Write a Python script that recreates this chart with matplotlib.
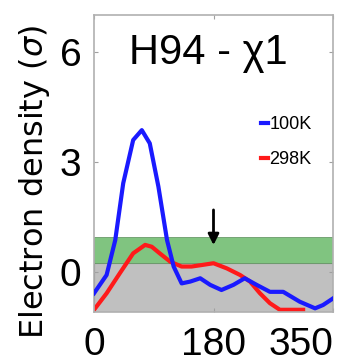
import matplotlib
matplotlib.use("Agg")
import matplotlib.pyplot as plt

# --- data ---
angle_100K = [0, 19, 32, 44, 59, 72, 84, 97, 110, 120, 132, 145, 160, 175, 192, 210, 227, 245, 265, 285, 310, 333, 345, 360]
dens_100K = [-0.59, -0.09, 0.86, 2.41, 3.59, 3.86, 3.5, 2.32, 0.86, 0.14, -0.32, -0.27, -0.18, -0.36, -0.5, -0.36, -0.18, -0.36, -0.55, -0.55, -0.82, -1.0, -0.91, -0.73]
angle_298K = [0, 19, 39, 59, 77, 87, 99, 115, 132, 147, 162, 180, 200, 220, 235, 250, 265, 280, 295, 315]
dens_298K = [-1.04, -0.59, -0.04, 0.5, 0.73, 0.68, 0.5, 0.27, 0.14, 0.14, 0.18, 0.23, 0.09, -0.09, -0.27, -0.59, -0.86, -1.04, -1.04, -1.04]
series_labels = ["100K", "298K"]
grey_band = (-1.1, 0.23)
green_band = (0.23, 0.95)
arrow_x = 180
arrow_y = (1.76, 0.65)
xticks = [0, 180, 360]
xticklabels = ["0", "180", "350"]
yticks = [0, 3, 6]
yticklabels = ["0", "3", "6"]
title = "H94 - \u03c71"
ylabel = "Electron density ($\\sigma$)"

fig = plt.figure(figsize=(3.62, 3.64), dpi=100)
ax = fig.add_axes([94/362, 1-312/364, 239/362, 297/364])

ax.axhspan(grey_band[0], grey_band[1], facecolor="#c0c0c0", edgecolor="#7a7a7a", lw=0.8, zorder=0)
ax.axhspan(green_band[0], green_band[1], facecolor="#80c480", edgecolor="#6a9a6a", lw=0.6, zorder=0)

ax.plot(angle_100K, dens_100K, color="#1a1aff", lw=3, label=series_labels[0], zorder=3)
ax.plot(angle_298K, dens_298K, color="#ff1a1a", lw=3, label=series_labels[1], zorder=2)

ax.annotate("", xy=(arrow_x, arrow_y[1]), xytext=(arrow_x, arrow_y[0]),
            arrowprops=dict(arrowstyle="-|>", color="black", lw=2, mutation_scale=16), zorder=4)

ax.set_xlim(0, 360)
ax.set_ylim(-1.1, 7.0)
ax.set_xticks(xticks)
ax.set_xticklabels(xticklabels, fontsize=28, family="Liberation Sans")
ax.set_yticks(yticks)
ax.set_yticklabels(yticklabels, fontsize=28, family="Liberation Sans")
ax.get_xticklabels()[-1].set_horizontalalignment("right")
ax.tick_params(direction="in", length=3, width=0.8, color="#a0a0a0",
               top=True, right=True)
ax.tick_params(axis="x", pad=11)
ax.tick_params(axis="y", pad=9)
for s in ax.spines.values():
    s.set_color("#b0b0b0")
    s.set_linewidth(1.2)

ax.text(0.477, 0.872, title, transform=ax.transAxes, ha="center", va="center",
        fontsize=30, family="Liberation Sans")

fig.text(35/362, 0.5, ylabel, rotation=90, ha="center", va="center",
         fontsize=23, family="DejaVu Sans")

leg = ax.legend(loc="upper left", bbox_to_anchor=(0.70, 0.66), frameon=False,
                handlelength=0.35, handletextpad=0.1, borderpad=0, borderaxespad=0,
                labelspacing=1.0, prop={"family": "Liberation Sans", "size": 13})

fig.savefig("out.png", dpi=100)
